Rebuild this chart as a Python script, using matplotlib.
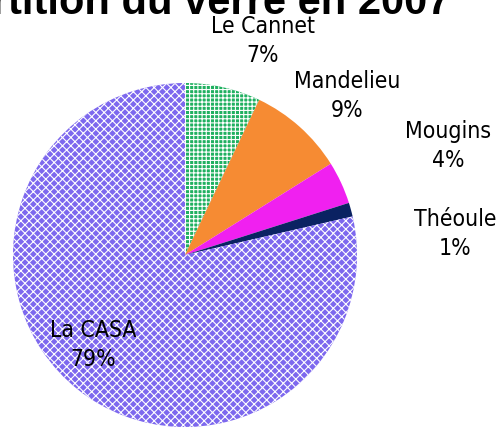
import matplotlib
matplotlib.use("Agg")
import matplotlib.pyplot as plt
from matplotlib import font_manager

communes = ["Le Cannet", "Mandelieu", "Mougins", "Théoule", "La CASA"]
parts = [7.1, 9.0, 4.0, 1.3, 78.6]
pct_labels = ["7%", "9%", "4%", "1%", "79%"]
colors = ["#20b060", "#f68b33", "#f020f0", "#0a2262", "#7d68ee"]
hatches = ["++++", "", "", "", "xxxx"]
title = "Répartition du verre en 2007"

fonts = font_manager.fontManager.ttflist
has_cond = any(f.name == "DejaVu Sans" and f.stretch == "condensed" for f in fonts)
lab_kw = dict(family="DejaVu Sans", fontstretch="condensed", fontsize=16.5) if has_cond \
    else dict(family="DejaVu Sans", fontsize=15)

plt.rcParams["hatch.color"] = "white"
plt.rcParams["hatch.linewidth"] = 0.8

fig = plt.figure(figsize=(4.98, 4.28), dpi=100)
ax = fig.add_axes([13/498, 1/428, 344/498, 344/428])
wedges, _ = ax.pie(parts, colors=colors, startangle=90, counterclock=False,
                   wedgeprops=dict(linewidth=0))
for w, h in zip(wedges, hatches):
    if h:
        w.set_hatch(h)
ax.set_xlim(-1, 1)
ax.set_ylim(-1, 1)
ax.set_aspect("equal")
ax.axis("off")

label_pos = [(0.453, 1.244), (0.942, 0.924), (1.529, 0.634), (1.570, 0.122), (-0.535, -0.523)]
for name, pct, (x, y) in zip(communes, pct_labels, label_pos):
    ax.text(x, y, f"{name}\n{pct}", ha="center", va="center",
            linespacing=1.3, clip_on=False, **lab_kw)

fig.text(170/498, (428-14)/428, title, ha="center", va="baseline",
         fontsize=30, fontweight="bold", family="Liberation Sans")

fig.savefig("out.png", dpi=100)
